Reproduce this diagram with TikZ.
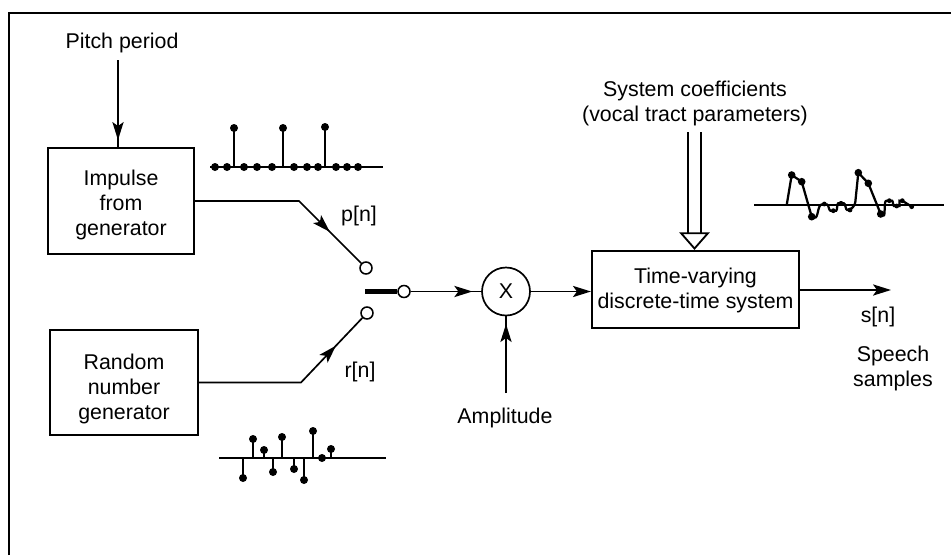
\documentclass[tikz,border=0pt]{standalone}
\usepackage{fontspec}
\setmainfont{Liberation Sans}
\usetikzlibrary{arrows.meta,positioning,calc,decorations.markings}

\begin{document}
\begin{tikzpicture}[
    x=0.25mm, y=-0.25mm,
    box/.style={draw, line width=1.4pt, align=center},
    lbl/.style={align=center, inner sep=0pt},
    term/.style={draw, circle, line width=1.1pt, fill=white, minimum size=0.3cm, inner sep=0pt},
    wire/.style={line width=1.2pt},
    arrow/.style={wire, -{Stealth[length=4.5mm, width=2.8mm, inset=1mm]}},
    midarrow/.style={wire, postaction={decorate, decoration={markings,
        mark=at position #1 with {\arrow{Stealth[length=4.5mm, width=2.8mm, inset=1mm]}}}}},
    stem/.style={line width=1.5pt},
    every node/.style={font=\fontsize{15.2}{17.8}\selectfont},
  ]
  \useasboundingbox (0,0) rectangle (951,555);

  % Frame
  \draw[line width=2.1pt] (9,555) -- (9,13) -- (951,13);

  % Sources
  \node[lbl] (pitch) at (122,43) {Pitch period};
  \node[box, minimum width=3.65cm, minimum height=2.65cm] (impulse) at (121,201) {\rule{0pt}{16.7pt}Impulse\\from\\generator};
  \node[box, minimum width=3.7cm, minimum height=2.63cm] (random) at (124,382.5) {\rule{0pt}{19.6pt}Random\\number\\generator};

  \coordinate (pitchout) at (118,60);
  \draw[midarrow=0.92] (pitchout) -- (pitchout |- impulse.north);

  % Switch
  \node[term] (pterm) at (366,268) {};
  \node[term] (rterm) at (367,313) {};
  \node[term] (oterm) at (404,291.5) {};
  \coordinate (pbend) at (299,201);
  \coordinate (rbend) at (301,382.5);
  \coordinate (blade) at (365,291.5);

  \draw[midarrow=0.77] (impulse.east) -- (pbend) -- (pterm);
  \draw[midarrow=0.80] (random.east) -- (rbend) -- (rterm);
  \draw[line width=3pt] (blade) -- (oterm);
  \node[lbl] (plabel) at (359,216) {p[n]};
  \node[lbl] (rlabel) at (360,372) {r[n]};

  % Gain and system
  \node[draw, circle, line width=1.2pt, minimum size=1.2cm, inner sep=0pt] (mult) at (506,291.5) {X};
  \node[box, minimum width=5.18cm, minimum height=1.93cm] (system) at (695.5,289.5) {\rule{0pt}{13pt}Time-varying\\discrete-time system};
  \node[lbl] (amp) at (505,418) {Amplitude};
  \node[lbl] (coef) at (695,103) {System coefficients\\(vocal tract parameters)};
  \coordinate (ampout) at (506,393);
  \coordinate (coefout) at (694.5,132);
  \coordinate (speech) at (891,290);

  \draw[midarrow=0.875] (oterm) -- (mult);
  \draw[midarrow=0.9] (ampout) -- (mult);
  \draw[arrow] (mult) -- (mult -| system.west);
  \draw[arrow] (system.east |- speech) -- (speech);
  \draw[line width=1.3pt, double, double distance=7.5pt,
        -{Triangle[open, fill=white, length=4.4mm, width=7.6mm]}] (coefout) -- (coefout |- system.north);

  \node[lbl] (slabel) at (878,317) {s[n]};
  \node[lbl] (samples) at (893,368) {Speech\\samples};

  % Impulse train
  \draw[stem] (210,167) -- (383,167);
  \foreach \x in {215,227,244,257,272,294,307,318,336,347,358}
    \fill (\x,167) circle (4);
  \foreach \x/\y in {234/128,283/128,325/127} {
    \draw[stem] (\x,167) -- (\x,\y);
    \fill (\x,\y) circle (4);
  }

  % Random samples
  \draw[stem] (219,458) -- (386,458);
  \foreach \x/\y in {253/439,264/450,282/437,313/431,322/458,331/449,243/478,273/472,294/469,304/480} {
    \draw[stem] (\x,458) -- (\x,\y);
    \fill (\x,\y) circle (4);
  }

  % Speech waveform
  \draw[stem] (754,205) -- (944,205);
  \draw[line width=1.6pt, rounded corners=2pt] (786.7,205) -- (791.7,175) -- (801.7,181.7) -- (811.7,216.7)
    to[out=-20,in=190] (824.3,204) to[out=-10,in=180] (833.3,210.7)
    to[out=0,in=180] (841,203.3) to[out=0,in=180] (850,210) -- (855,205)
    -- (858.3,172.7) -- (868.3,183.3) -- (880.7,214)
    to[out=-30,in=180] (889.3,200.7) to[out=0,in=180] (896.7,206)
    to[out=0,in=180] (902.3,200.7) -- (911.7,206.7);
  \foreach \x/\y in {791.7/175,801.7/181.7,811.7/216.7,858.3/172.7,868.3/183.3,880.7/214}
    \fill (\x,\y) circle (3.8);
  \foreach \x/\y in {824.3/204,833.3/210.7,841/203.3,850/210,889.3/200.7,896.7/206,902.3/200.7,911.7/206.7}
    \fill (\x,\y) circle (2.4);
\end{tikzpicture}
\end{document}
